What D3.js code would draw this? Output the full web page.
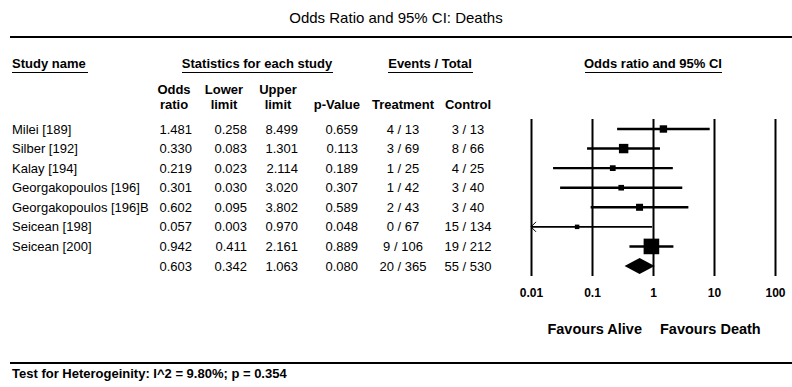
<!DOCTYPE html>
<html>
<head>
<meta charset="utf-8">
<script src="https://cdn.jsdelivr.net/npm/d3@7"></script>
<style>
  html, body { margin: 0; padding: 0; background: #fff; }
  svg { display: block; }
  text { font-family: "Liberation Sans", Arial, sans-serif; fill: #000; }
</style>
</head>
<body>
<svg id="chart" width="792" height="387"></svg>
<script>
// Study-level results (odds ratios for death, 95% CI)
const studies = ["Milei [189]", "Silber [192]", "Kalay [194]", "Georgakopoulos [196]",
                 "Georgakopoulos [196]B", "Seicean [198]", "Seicean [200]"];
const oddsRatio  = [1.481, 0.330, 0.219, 0.301, 0.602, 0.057, 0.942];
const lowerLimit = [0.258, 0.083, 0.023, 0.030, 0.095, 0.003, 0.411];
const upperLimit = [8.499, 1.301, 2.114, 3.020, 3.802, 0.970, 2.161];
const pValue     = [0.659, 0.113, 0.189, 0.307, 0.589, 0.048, 0.889];
const treatEvents = [4, 3, 1, 1, 2, 0, 9];
const treatTotal  = [13, 69, 25, 42, 43, 67, 106];
const ctrlEvents  = [3, 8, 4, 3, 3, 15, 19];
const ctrlTotal   = [13, 66, 25, 40, 40, 134, 212];

// Pooled estimate
const pooled = { or: 0.603, lower: 0.342, upper: 1.063, p: 0.080,
                 te: 20, tt: 365, ce: 55, ct: 530 };

const axisTicks = [0.01, 0.1, 1, 10, 100];
const axisTickLabels = ["0.01", "0.1", "1", "10", "100"];
const heterogeneity = "Test for Heterogeinity: I^2 = 9.80%; p = 0.354";

const svg = d3.select("#chart");
const f3 = d3.format(".3f");

// ---- title and rules
svg.append("text").attr("x", 396).attr("y", 23).attr("text-anchor", "middle")
  .style("font-size", "15px").text("Odds Ratio and 95% CI: Deaths");
svg.append("line").attr("x1", 10).attr("x2", 792).attr("y1", 37).attr("y2", 37)
  .attr("stroke", "#000").attr("stroke-width", 2);
svg.append("line").attr("x1", 10).attr("x2", 792).attr("y1", 363).attr("y2", 363)
  .attr("stroke", "#000").attr("stroke-width", 2);

// ---- group headers (underlined)
const groupHeads = [
  { t: "Study name", x: 12, anchor: "start", u: [12, 88] },
  { t: "Statistics for each study", x: 257, anchor: "middle", u: [182, 333] },
  { t: "Events / Total", x: 430, anchor: "middle", u: [388, 473] },
  { t: "Odds ratio and 95% CI", x: 653, anchor: "middle", u: [585, 722] }
];
groupHeads.forEach(h => {
  svg.append("text").attr("x", h.x).attr("y", 68).attr("text-anchor", h.anchor)
    .style("font-size", "13px").style("font-weight", "bold").text(h.t);
  svg.append("line").attr("x1", h.u[0]).attr("x2", h.u[1]).attr("y1", 72.5).attr("y2", 72.5)
    .attr("stroke", "#000").attr("stroke-width", 1.2);
});

// ---- column headers
const colX = { or: 192, lo: 247, hi: 298, p: 358, tr: 403, ct: 468 };
const colHeads = [
  { lines: ["Odds", "ratio"], x: 174 },
  { lines: ["Lower", "limit"], x: 224 },
  { lines: ["Upper", "limit"], x: 278 },
];
colHeads.forEach(c => {
  c.lines.forEach((s, i) => {
    svg.append("text").attr("x", c.x).attr("y", 94 + i * 15).attr("text-anchor", "middle")
      .style("font-size", "13px").style("font-weight", "bold").text(s);
  });
});
svg.append("text").attr("x", colX.p + 2).attr("y", 109).attr("text-anchor", "end")
  .style("font-size", "13px").style("font-weight", "bold").text("p-Value");
svg.append("text").attr("x", colX.tr).attr("y", 109).attr("text-anchor", "middle")
  .style("font-size", "13px").style("font-weight", "bold").text("Treatment");
svg.append("text").attr("x", colX.ct).attr("y", 109).attr("text-anchor", "middle")
  .style("font-size", "13px").style("font-weight", "bold").text("Control");

// ---- rows
const rowIdx = d3.range(studies.length + 1);
const y = d3.scalePoint().domain(rowIdx).range([129, 266]);

const rows = studies.map((s, i) => ({
  name: s, or: oddsRatio[i], lo: lowerLimit[i], hi: upperLimit[i], p: pValue[i],
  tr: `${treatEvents[i]} / ${treatTotal[i]}`, ct: `${ctrlEvents[i]} / ${ctrlTotal[i]}`
}));
rows.push({ name: "", or: pooled.or, lo: pooled.lower, hi: pooled.upper, p: pooled.p,
  tr: `${pooled.te} / ${pooled.tt}`, ct: `${pooled.ce} / ${pooled.ct}`, summary: true });

const rowG = svg.append("g").style("font-size", "13px");
rows.forEach((r, i) => {
  const yy = y(i);
  const cell = (x, txt, anchor) => rowG.append("text").attr("x", x).attr("y", yy)
    .attr("dy", "0.35em").attr("text-anchor", anchor).text(txt);
  cell(12, r.name, "start");
  cell(colX.or, f3(r.or), "end");
  cell(colX.lo, f3(r.lo), "end");
  cell(colX.hi, f3(r.hi), "end");
  cell(colX.p, f3(r.p), "end");
  cell(colX.tr, r.tr, "middle");
  cell(colX.ct, r.ct, "middle");
});

// ---- forest plot
const x = d3.scaleLog().domain([0.01, 100]).range([531, 775]);
const plotTop = 119, plotBottom = 276;

const axis = d3.axisBottom(x).tickValues(axisTicks)
  .tickFormat((d, i) => axisTickLabels[i])
  .tickSize(-(plotBottom - plotTop)).tickSizeOuter(0).tickPadding(12);
const axG = svg.append("g").attr("transform", `translate(0,${plotBottom})`).call(axis);
axG.select(".domain").remove();
axG.selectAll(".tick line").attr("stroke", "#000").attr("stroke-width", 2);
axG.selectAll(".tick text").attr("fill", "#000")
  .style("font-family", "'Liberation Sans', Arial, sans-serif")
  .style("font-size", "12px").style("font-weight", "bold");

// inverse-variance weights from the CI width set box sizes
const weight = studies.map((_, i) =>
  1 / Math.pow((Math.log(upperLimit[i]) - Math.log(lowerLimit[i])) / (2 * 1.96), 2));
const side = d3.scaleSqrt().domain([0, d3.max(weight)]).range([0, 15.6]);

const [xMin, xMax] = x.domain();
const fg = svg.append("g");
rows.forEach((r, i) => {
  const yy = y(i);
  if (r.summary) {
    const pts = [[x(r.lo), yy], [x(r.or), yy - 8], [x(r.hi), yy], [x(r.or), yy + 8]];
    fg.append("path").attr("d", "M" + pts.join("L") + "Z").attr("fill", "#000");
    return;
  }
  const clipped = r.lo < xMin;
  const x0 = x(Math.max(r.lo, xMin)), x1 = x(Math.min(r.hi, xMax));
  fg.append("line").attr("x1", x0).attr("x2", x1).attr("y1", yy).attr("y2", yy)
    .attr("stroke", "#000").attr("stroke-width", clipped ? 1.6 : 2.4);
  if (clipped) {
    fg.append("path").attr("d", `M${x0 + 5},${yy - 5}L${x0},${yy}L${x0 + 5},${yy + 5}`)
      .attr("fill", "none").attr("stroke", "#000").attr("stroke-width", 1);
  }
  const s = side(weight[i]);
  fg.append("rect").attr("x", x(r.or) - s / 2).attr("y", yy - s / 2)
    .attr("width", s).attr("height", s).attr("fill", "#000");
});

// ---- direction labels
svg.append("text").attr("x", 642).attr("y", 334).attr("text-anchor", "end")
  .style("font-size", "14.5px").style("font-weight", "bold").text("Favours Alive");
svg.append("text").attr("x", 660).attr("y", 334).attr("text-anchor", "start")
  .style("font-size", "14.5px").style("font-weight", "bold").text("Favours Death");

// ---- footer
svg.append("text").attr("x", 12).attr("y", 378)
  .style("font-size", "13px").style("font-weight", "bold").text(heterogeneity);
</script>
</body>
</html>
